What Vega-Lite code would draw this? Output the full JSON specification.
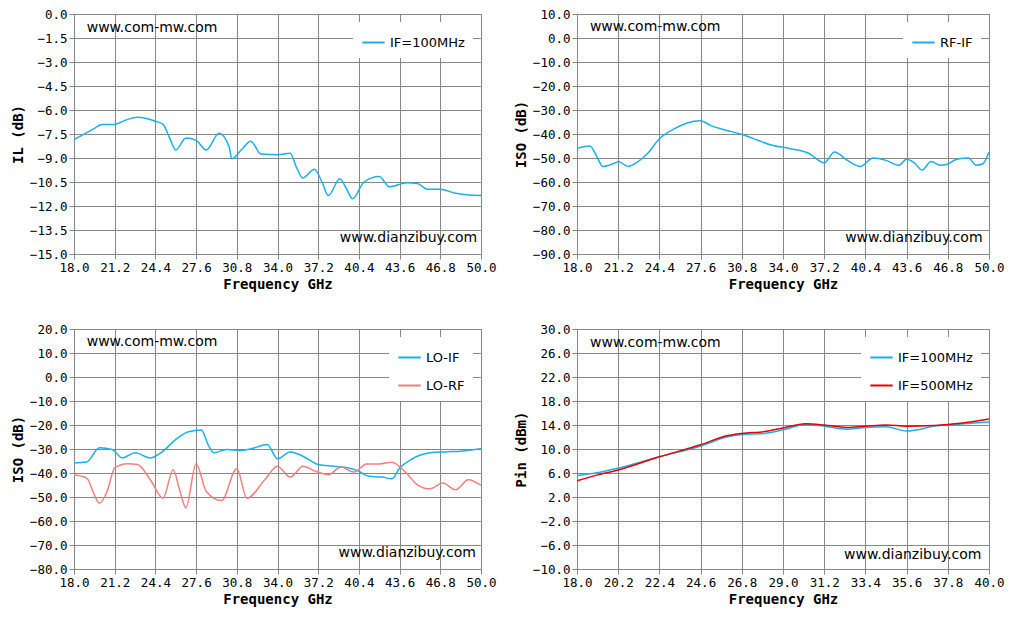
{
  "$schema": "https://vega.github.io/schema/vega-lite/v6.json",
  "background": "white",
  "padding": {"left": 10, "top": 7, "right": 10, "bottom": 5},
  "config": {
    "font": "DejaVu Sans",
    "view": {"stroke": "#888888"},
    "axis": {
      "labelFont": "DejaVu Sans Mono", "labelFontSize": 12.5, "labelColor": "#000",
      "titleFont": "DejaVu Sans Mono", "titleFontSize": 14, "titleFontWeight": "bold", "titleColor": "#000",
      "gridColor": "#888888", "gridOpacity": 1, "domainColor": "#888888", "tickColor": "#888888", "tickSize": 5
    },
    "legend": {
      "orient": "top-right", "fillColor": "white", "labelFontSize": 13, "labelFont": "DejaVu Sans",
      "title": null, "symbolType": "stroke", "symbolStrokeWidth": 2, "symbolSize": 500, "padding": 8, "offset": 8, "rowPadding": 8
    }
  },
  "datasets": {
    "il": [
      {"f":18,"v":-7.85},{"f":19.5,"v":-7.2},{"f":20.2,"v":-6.9},{"f":21.2,"v":-6.9},{"f":22,"v":-6.65},{"f":23,"v":-6.45},
      {"f":24.4,"v":-6.7},{"f":25,"v":-6.9},{"f":25.6,"v":-7.9},{"f":26,"v":-8.5},{"f":26.8,"v":-7.75},{"f":27.6,"v":-7.9},
      {"f":28.4,"v":-8.5},{"f":29.4,"v":-7.45},{"f":30.2,"v":-8.3},{"f":30.4,"v":-9.05},{"f":31.2,"v":-8.45},{"f":31.9,"v":-7.95},
      {"f":32.7,"v":-8.75},{"f":34,"v":-8.8},{"f":35,"v":-8.7},{"f":35.5,"v":-9.6},{"f":36,"v":-10.25},{"f":36.9,"v":-9.7},
      {"f":37.5,"v":-10.5},{"f":38,"v":-11.35},{"f":38.9,"v":-10.3},{"f":39.5,"v":-11.05},{"f":39.9,"v":-11.55},{"f":40.8,"v":-10.5},
      {"f":42,"v":-10.15},{"f":42.8,"v":-10.8},{"f":44.2,"v":-10.55},{"f":45,"v":-10.6},{"f":45.8,"v":-10.95},{"f":46.8,"v":-10.95},
      {"f":48,"v":-11.2},{"f":50,"v":-11.35}
    ],
    "rfif": [
      {"f":18,"v":-46},{"f":19,"v":-45},{"f":19.5,"v":-49},{"f":20,"v":-53.5},{"f":21,"v":-52},{"f":21.2,"v":-51.5},{"f":22,"v":-53.5},
      {"f":22.6,"v":-52},{"f":23.5,"v":-48},{"f":24.4,"v":-42},{"f":25.5,"v":-38},{"f":26.5,"v":-35.5},{"f":27.6,"v":-34.5},
      {"f":28.4,"v":-36.5},{"f":30,"v":-39},{"f":31,"v":-40.5},{"f":32,"v":-42.5},{"f":33,"v":-44.5},{"f":34.5,"v":-46},
      {"f":36,"v":-48},{"f":37.2,"v":-52},{"f":38,"v":-47.5},{"f":39,"v":-51},{"f":40,"v":-53.5},{"f":41,"v":-50},{"f":42,"v":-51},
      {"f":43,"v":-53},{"f":43.6,"v":-50.5},{"f":44.2,"v":-52},{"f":44.8,"v":-55},{"f":45.5,"v":-51.5},{"f":46.2,"v":-53},
      {"f":46.8,"v":-52.5},{"f":47.5,"v":-50.5},{"f":48.4,"v":-50},{"f":49,"v":-53},{"f":49.5,"v":-52.5},{"f":50,"v":-47.5}
    ],
    "lo": [
      {"f":18,"v":-35.8,"s":"LO-IF"},{"f":19,"v":-35.4,"s":"LO-IF"},{"f":20,"v":-29.5,"s":"LO-IF"},{"f":21,"v":-30.2,"s":"LO-IF"},
      {"f":21.8,"v":-33.7,"s":"LO-IF"},{"f":22.8,"v":-31.6,"s":"LO-IF"},{"f":24,"v":-33.7,"s":"LO-IF"},{"f":25,"v":-30.9,"s":"LO-IF"},
      {"f":26,"v":-26,"s":"LO-IF"},{"f":27,"v":-22.8,"s":"LO-IF"},{"f":28,"v":-22.1,"s":"LO-IF"},{"f":28.6,"v":-28.8,"s":"LO-IF"},
      {"f":29,"v":-31.6,"s":"LO-IF"},{"f":30,"v":-30.2,"s":"LO-IF"},{"f":31,"v":-30.6,"s":"LO-IF"},{"f":32,"v":-29.8,"s":"LO-IF"},
      {"f":33.2,"v":-28.1,"s":"LO-IF"},{"f":34,"v":-34.1,"s":"LO-IF"},{"f":35,"v":-31.2,"s":"LO-IF"},{"f":36,"v":-33,"s":"LO-IF"},
      {"f":37.2,"v":-36.5,"s":"LO-IF"},{"f":38.4,"v":-37.2,"s":"LO-IF"},{"f":39.6,"v":-37.9,"s":"LO-IF"},{"f":40.4,"v":-39.3,"s":"LO-IF"},
      {"f":41.2,"v":-41.4,"s":"LO-IF"},{"f":42.2,"v":-41.7,"s":"LO-IF"},{"f":43,"v":-42.4,"s":"LO-IF"},{"f":43.6,"v":-37.9,"s":"LO-IF"},
      {"f":44.4,"v":-34.7,"s":"LO-IF"},{"f":46,"v":-31.6,"s":"LO-IF"},{"f":47.2,"v":-31.2,"s":"LO-IF"},{"f":48.4,"v":-30.9,"s":"LO-IF"},
      {"f":50,"v":-29.9,"s":"LO-IF"},
      {"f":18,"v":-40.7,"s":"LO-RF"},{"f":19,"v":-42.1,"s":"LO-RF"},{"f":19.6,"v":-49.1,"s":"LO-RF"},{"f":20,"v":-52.6,"s":"LO-RF"},
      {"f":20.6,"v":-47.7,"s":"LO-RF"},{"f":21.2,"v":-37.9,"s":"LO-RF"},{"f":22.2,"v":-36.1,"s":"LO-RF"},{"f":23,"v":-36.5,"s":"LO-RF"},
      {"f":24,"v":-42.8,"s":"LO-RF"},{"f":25,"v":-50.5,"s":"LO-RF"},{"f":25.8,"v":-38.6,"s":"LO-RF"},{"f":26.3,"v":-47,"s":"LO-RF"},
      {"f":26.8,"v":-54.5,"s":"LO-RF"},{"f":27.6,"v":-36.1,"s":"LO-RF"},{"f":28.4,"v":-47.7,"s":"LO-RF"},{"f":29.6,"v":-51.5,"s":"LO-RF"},
      {"f":30.8,"v":-38.2,"s":"LO-RF"},{"f":31.6,"v":-50.5,"s":"LO-RF"},{"f":33,"v":-42.8,"s":"LO-RF"},{"f":34,"v":-37.2,"s":"LO-RF"},
      {"f":35,"v":-41.7,"s":"LO-RF"},{"f":36,"v":-37.2,"s":"LO-RF"},{"f":37,"v":-39.3,"s":"LO-RF"},{"f":38,"v":-40.7,"s":"LO-RF"},
      {"f":39,"v":-37.5,"s":"LO-RF"},{"f":40,"v":-39.6,"s":"LO-RF"},{"f":41,"v":-36.2,"s":"LO-RF"},{"f":42,"v":-36.2,"s":"LO-RF"},
      {"f":43,"v":-35.5,"s":"LO-RF"},{"f":44,"v":-39.3,"s":"LO-RF"},{"f":45,"v":-44.9,"s":"LO-RF"},{"f":46,"v":-46.6,"s":"LO-RF"},
      {"f":47,"v":-44.2,"s":"LO-RF"},{"f":48,"v":-47,"s":"LO-RF"},{"f":49,"v":-42.8,"s":"LO-RF"},{"f":50,"v":-45.2,"s":"LO-RF"}
    ],
    "pin": [
      {"f":18,"v":5.6,"s":"IF=100MHz"},{"f":19,"v":6,"s":"IF=100MHz"},{"f":20.2,"v":6.8,"s":"IF=100MHz"},{"f":22.4,"v":8.7,"s":"IF=100MHz"},
      {"f":24.6,"v":10.5,"s":"IF=100MHz"},{"f":26,"v":12,"s":"IF=100MHz"},{"f":26.8,"v":12.4,"s":"IF=100MHz"},{"f":28,"v":12.6,"s":"IF=100MHz"},
      {"f":29,"v":13.2,"s":"IF=100MHz"},{"f":30.2,"v":14.1,"s":"IF=100MHz"},{"f":31.2,"v":13.8,"s":"IF=100MHz"},{"f":32.4,"v":13.3,"s":"IF=100MHz"},
      {"f":33.4,"v":13.6,"s":"IF=100MHz"},{"f":34.5,"v":13.7,"s":"IF=100MHz"},{"f":35.6,"v":13.0,"s":"IF=100MHz"},{"f":36.2,"v":13.2,"s":"IF=100MHz"},
      {"f":37,"v":13.8,"s":"IF=100MHz"},{"f":37.8,"v":14.0,"s":"IF=100MHz"},{"f":39,"v":14.3,"s":"IF=100MHz"},{"f":40,"v":14.5,"s":"IF=100MHz"},
      {"f":18,"v":4.7,"s":"IF=500MHz"},{"f":19,"v":5.6,"s":"IF=500MHz"},{"f":20.2,"v":6.5,"s":"IF=500MHz"},{"f":22.4,"v":8.7,"s":"IF=500MHz"},
      {"f":24.6,"v":10.7,"s":"IF=500MHz"},{"f":26,"v":12.2,"s":"IF=500MHz"},{"f":26.8,"v":12.6,"s":"IF=500MHz"},{"f":28,"v":12.9,"s":"IF=500MHz"},
      {"f":29,"v":13.5,"s":"IF=500MHz"},{"f":30.2,"v":14.2,"s":"IF=500MHz"},{"f":31.2,"v":14.0,"s":"IF=500MHz"},{"f":32.4,"v":13.6,"s":"IF=500MHz"},
      {"f":33.4,"v":13.8,"s":"IF=500MHz"},{"f":34.5,"v":14.0,"s":"IF=500MHz"},{"f":35.6,"v":13.8,"s":"IF=500MHz"},{"f":37,"v":13.9,"s":"IF=500MHz"},
      {"f":37.8,"v":14.1,"s":"IF=500MHz"},{"f":39,"v":14.5,"s":"IF=500MHz"},{"f":40,"v":15.0,"s":"IF=500MHz"}
    ]
  },
  "vconcat": [
    {
      "hconcat": [
        {
          "width": 407, "height": 240,
          "layer": [
            {
              "data": {"name": "il"},
              "transform": [{"calculate": "'IF=100MHz'", "as": "s"}],
              "mark": {"type": "line", "interpolate": "monotone", "strokeWidth": 1.5},
              "encoding": {
                "x": {"field": "f", "type": "quantitative", "title": "Frequency GHz",
                  "scale": {"domain": [18, 50], "nice": false},
                  "axis": {"values": [18, 21.2, 24.4, 27.6, 30.8, 34, 37.2, 40.4, 43.6, 46.8, 50], "format": ".1f", "labelFlush": false, "labelOverlap": false}},
                "y": {"field": "v", "type": "quantitative", "title": "IL (dB)",
                  "scale": {"domain": [-15, 0], "nice": false},
                  "axis": {"values": [0, -1.5, -3, -4.5, -6, -7.5, -9, -10.5, -12, -13.5, -15], "format": ".1f", "labelFlush": false, "labelOverlap": false}},
                "color": {"field": "s", "type": "nominal", "scale": {"range": ["#1AB0EA"]}}
              }
            },
            {
              "data": {"values": [{"t": "www.com-mw.com"}]},
              "mark": {"type": "text", "align": "left", "fontSize": 14, "font": "DejaVu Sans"},
              "encoding": {"text": {"field": "t"}, "x": {"datum": 19.0},
                "y": {"datum": -0.9, "axis": {"values": [0, -1.5, -3, -4.5, -6, -7.5, -9, -10.5, -12, -13.5, -15], "format": ".1f", "labelFlush": false, "labelOverlap": false}}}
            },
            {
              "data": {"values": [{"t": "www.dianzibuy.com"}]},
              "mark": {"type": "text", "align": "right", "fontSize": 14, "font": "DejaVu Sans"},
              "encoding": {"text": {"field": "t"}, "x": {"datum": 49.7},
                "y": {"datum": -14.0, "axis": {"values": [0, -1.5, -3, -4.5, -6, -7.5, -9, -10.5, -12, -13.5, -15], "format": ".1f", "labelFlush": false, "labelOverlap": false}}}
            }
          ]
        },
        {
          "width": 412, "height": 240,
          "layer": [
            {
              "data": {"name": "rfif"},
              "transform": [{"calculate": "'RF-IF'", "as": "s"}],
              "mark": {"type": "line", "interpolate": "monotone", "strokeWidth": 1.5},
              "encoding": {
                "x": {"field": "f", "type": "quantitative", "title": "Frequency GHz",
                  "scale": {"domain": [18, 50], "nice": false},
                  "axis": {"values": [18, 21.2, 24.4, 27.6, 30.8, 34, 37.2, 40.4, 43.6, 46.8, 50], "format": ".1f", "labelFlush": false, "labelOverlap": false}},
                "y": {"field": "v", "type": "quantitative", "title": "ISO (dB)",
                  "scale": {"domain": [-90, 10], "nice": false},
                  "axis": {"values": [10, 0, -10, -20, -30, -40, -50, -60, -70, -80, -90], "format": ".1f", "labelFlush": false, "labelOverlap": false}},
                "color": {"field": "s", "type": "nominal", "scale": {"range": ["#1AB0EA"]}}
              }
            },
            {
              "data": {"values": [{"t": "www.com-mw.com"}]},
              "mark": {"type": "text", "align": "left", "fontSize": 14, "font": "DejaVu Sans"},
              "encoding": {"text": {"field": "t"}, "x": {"datum": 19.0},
                "y": {"datum": 4.5, "axis": {"values": [10, 0, -10, -20, -30, -40, -50, -60, -70, -80, -90], "format": ".1f", "labelFlush": false, "labelOverlap": false}}}
            },
            {
              "data": {"values": [{"t": "www.dianzibuy.com"}]},
              "mark": {"type": "text", "align": "right", "fontSize": 14, "font": "DejaVu Sans"},
              "encoding": {"text": {"field": "t"}, "x": {"datum": 49.5},
                "y": {"datum": -83.5, "axis": {"values": [10, 0, -10, -20, -30, -40, -50, -60, -70, -80, -90], "format": ".1f", "labelFlush": false, "labelOverlap": false}}}
            }
          ]
        }
      ],
      "spacing": 16,
      "resolve": {"scale": {"color": "independent"}}
    },
    {
      "hconcat": [
        {
          "width": 407, "height": 240,
          "layer": [
            {
              "data": {"name": "lo"},
              "mark": {"type": "line", "interpolate": "monotone", "strokeWidth": 1.5},
              "encoding": {
                "x": {"field": "f", "type": "quantitative", "title": "Frequency GHz",
                  "scale": {"domain": [18, 50], "nice": false},
                  "axis": {"values": [18, 21.2, 24.4, 27.6, 30.8, 34, 37.2, 40.4, 43.6, 46.8, 50], "format": ".1f", "labelFlush": false, "labelOverlap": false}},
                "y": {"field": "v", "type": "quantitative", "title": "ISO (dB)",
                  "scale": {"domain": [-80, 20], "nice": false},
                  "axis": {"values": [20, 10, 0, -10, -20, -30, -40, -50, -60, -70, -80], "format": ".1f", "labelFlush": false, "labelOverlap": false}},
                "color": {"field": "s", "type": "nominal", "scale": {"domain": ["LO-IF", "LO-RF"], "range": ["#1AB0EA", "#F28080"]}}
              }
            },
            {
              "data": {"values": [{"t": "www.com-mw.com"}]},
              "mark": {"type": "text", "align": "left", "fontSize": 14, "font": "DejaVu Sans"},
              "encoding": {"text": {"field": "t"}, "x": {"datum": 19.0},
                "y": {"datum": 14.5, "axis": {"values": [20, 10, 0, -10, -20, -30, -40, -50, -60, -70, -80], "format": ".1f", "labelFlush": false, "labelOverlap": false}}}
            },
            {
              "data": {"values": [{"t": "www.dianzibuy.com"}]},
              "mark": {"type": "text", "align": "right", "fontSize": 14, "font": "DejaVu Sans"},
              "encoding": {"text": {"field": "t"}, "x": {"datum": 49.6},
                "y": {"datum": -73.5, "axis": {"values": [20, 10, 0, -10, -20, -30, -40, -50, -60, -70, -80], "format": ".1f", "labelFlush": false, "labelOverlap": false}}}
            }
          ]
        },
        {
          "width": 412, "height": 240,
          "layer": [
            {
              "data": {"name": "pin"},
              "mark": {"type": "line", "interpolate": "monotone", "strokeWidth": 1.5},
              "encoding": {
                "x": {"field": "f", "type": "quantitative", "title": "Frequency GHz",
                  "scale": {"domain": [18, 40], "nice": false},
                  "axis": {"values": [18, 20.2, 22.4, 24.6, 26.8, 29, 31.2, 33.4, 35.6, 37.8, 40], "format": ".1f", "labelFlush": false, "labelOverlap": false}},
                "y": {"field": "v", "type": "quantitative", "title": "Pin (dBm)",
                  "scale": {"domain": [-10, 30], "nice": false},
                  "axis": {"values": [30, 26, 22, 18, 14, 10, 6, 2, -2, -6, -10], "format": ".1f", "labelFlush": false, "labelOverlap": false}},
                "color": {"field": "s", "type": "nominal", "scale": {"domain": ["IF=100MHz", "IF=500MHz"], "range": ["#1AB0EA", "#E80000"]}}
              }
            },
            {
              "data": {"values": [{"t": "www.com-mw.com"}]},
              "mark": {"type": "text", "align": "left", "fontSize": 14, "font": "DejaVu Sans"},
              "encoding": {"text": {"field": "t"}, "x": {"datum": 18.7},
                "y": {"datum": 27.7, "axis": {"values": [30, 26, 22, 18, 14, 10, 6, 2, -2, -6, -10], "format": ".1f", "labelFlush": false, "labelOverlap": false}}}
            },
            {
              "data": {"values": [{"t": "www.dianzibuy.com"}]},
              "mark": {"type": "text", "align": "right", "fontSize": 14, "font": "DejaVu Sans"},
              "encoding": {"text": {"field": "t"}, "x": {"datum": 39.6},
                "y": {"datum": -7.6, "axis": {"values": [30, 26, 22, 18, 14, 10, 6, 2, -2, -6, -10], "format": ".1f", "labelFlush": false, "labelOverlap": false}}}
            }
          ]
        }
      ],
      "spacing": 16,
      "resolve": {"scale": {"color": "independent"}}
    }
  ],
  "spacing": 30
}
